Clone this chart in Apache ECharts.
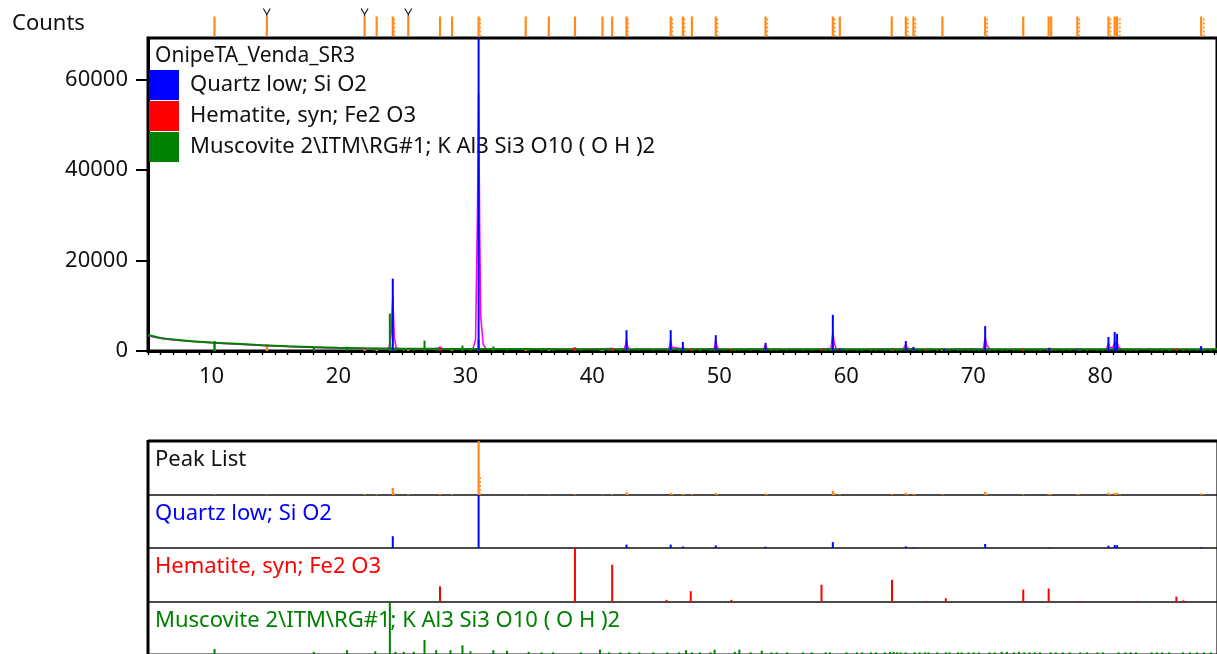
<!DOCTYPE html>
<html>
<head>
<meta charset="utf-8">
<title>OnipeTA_Venda_SR3</title>
<script src="https://cdn.jsdelivr.net/npm/echarts@6/dist/echarts.min.js"></script>
<style>
  html, body { margin: 0; padding: 0; background: #ffffff; }
  #chart { width: 1217px; height: 654px; }
</style>
</head>
<body>
<div id="chart"></div>
<script>
// ---------- data ----------
const sampleName = 'OnipeTA_Venda_SR3';
const yAxisTitle = 'Counts';
const xTickLabels = [10, 20, 30, 40, 50, 60, 70, 80];
const yTickLabels = [0, 20000, 40000, 60000];
const panelNames = ['Peak List', 'Quartz low; Si O2', 'Hematite, syn; Fe2 O3',
  'Muscovite 2\\ITM\\RG#1; K Al3 Si3 O10 ( O H )2'];

// measured / fitted profile: [2θ, counts]
const profile = [
  [5.0, 3450], [5.5, 3050], [6.0, 2800], [7.0, 2450], [8.0, 2200], [9.0, 2000],
  [10.0, 1820], [11.0, 1670], [12.0, 1520], [13.0, 1380], [14.0, 1240], [15.0, 1100],
  [16.0, 1000], [17.0, 900], [18.0, 810], [19.0, 720], [20.0, 650], [21.0, 600],
  [22.0, 560], [23.0, 520], [23.8, 500], [24.0, 700], [24.15, 4000], [24.28, 12000],
  [24.4, 3000], [24.55, 650], [24.8, 490], [26.0, 470], [27.0, 460], [27.8, 460],
  [28.0, 900], [28.2, 460], [29.0, 450], [30.0, 440], [30.6, 520], [30.8, 2500],
  [30.95, 30000], [31.04, 57000], [31.12, 28000], [31.2, 8000], [31.4, 1500],
  [31.6, 560], [32.0, 430], [34.0, 420], [36.0, 410], [38.0, 400], [38.63, 600],
  [39.0, 400], [41.56, 560], [42.0, 400], [42.5, 500], [42.62, 1400], [42.69, 2400],
  [42.78, 1000], [42.9, 430], [44.0, 400], [46.0, 430], [46.1, 1200], [46.17, 2300],
  [46.26, 800], [46.4, 400], [47.05, 480], [47.13, 1000], [47.22, 420], [48.0, 400],
  [49.6, 560], [49.72, 2400], [49.82, 900], [50.0, 400], [52.0, 400], [53.5, 480],
  [53.64, 1300], [53.75, 560], [54.0, 400], [56.0, 400], [58.0, 400], [58.8, 600],
  [58.94, 4000], [59.05, 1800], [59.2, 480], [60.0, 400], [62.0, 400], [64.5, 480],
  [64.69, 1500], [64.8, 650], [65.2, 420], [65.29, 750], [65.4, 400], [68.0, 390],
  [70.8, 500], [70.94, 3000], [71.05, 1300], [71.3, 420], [72.0, 390], [75.9, 400],
  [76.0, 650], [76.1, 400], [78.0, 390], [80.5, 430], [80.65, 1700], [80.75, 800],
  [81.0, 750], [81.14, 2000], [81.25, 1200], [81.33, 1800], [81.45, 800], [81.7, 420],
  [82.0, 390], [87.8, 400], [87.95, 750], [88.1, 400], [89.2, 390]
];

// fitted background: [2θ, counts]
const background = [
  [5.0, 3550], [6.0, 2900], [7.0, 2520], [8.0, 2270], [10.0, 1880], [12.0, 1580],
  [14.0, 1290], [16.0, 1050], [18.0, 860], [20.0, 700], [22.0, 600], [24.0, 540],
  [26.0, 500], [28.0, 470], [30.0, 450], [35.0, 420], [40.0, 410], [50.0, 400],
  [60.0, 390], [70.0, 380], [80.0, 380], [89.2, 380]
];

// peak list: [2θ, relative intensity %, counts in scan plot]
const peakList = [
  [10.24, 1, 2100], [14.36, 1, 1500], [22.06, 1.5, 800], [23.01, 1.5, 750],
  [24.28, 13, 1500], [25.50, 1.5, 700], [28.0, 2, 850], [28.95, 1.5, 650],
  [31.04, 100, 2500], [34.75, 1, 650], [36.57, 1, 650], [38.63, 1.5, 700],
  [40.80, 1, 620], [41.56, 1.5, 700], [42.69, 5, 1200], [46.17, 4, 1100],
  [47.13, 2, 800], [47.84, 1.5, 650], [49.72, 4, 1300], [53.64, 3, 900],
  [58.94, 8, 1500], [59.49, 1.5, 650], [63.58, 1.5, 650], [64.69, 4, 1000],
  [65.29, 2.5, 750], [67.57, 1.5, 620], [70.94, 6, 1400], [73.94, 1.5, 620],
  [75.94, 2, 700], [76.14, 2, 700], [78.2, 2, 650], [80.65, 4, 1100],
  [81.14, 4, 1200], [81.33, 4, 1100], [87.95, 3, 800]
];
// second (alpha-2) peak markers: [2θ, relative intensity %]
const peakListA2 = [
  [24.40, 6], [31.16, 38], [42.81, 2.5], [46.30, 2], [47.25, 1], [49.85, 2],
  [53.78, 1.5], [59.09, 4], [64.84, 2], [65.44, 1.2], [71.10, 3], [78.36, 1],
  [80.81, 2], [81.55, 2], [88.17, 1.5]
];
// peaks flagged as unassigned
const peakFlagged = [14.36, 22.06, 25.50];

// Quartz low reference: [2θ, counts]
const quartz = [
  [24.28, 16000], [31.04, 72000], [42.69, 4600], [46.17, 4600], [47.13, 2000],
  [49.72, 3500], [53.64, 1800], [58.94, 8000], [59.49, 500], [64.69, 2200],
  [65.29, 900], [67.7, 450], [70.94, 5500], [76.0, 700], [78.2, 350],
  [80.65, 3100], [81.14, 4200], [81.33, 3800], [87.95, 1100]
];

// Hematite reference: [2θ, relative intensity %, counts in scan plot]
const hematite = [
  [28.0, 29, 600], [38.63, 100, 750], [41.56, 69, 620], [45.85, 4, 420],
  [47.75, 20, 480], [50.95, 4, 410], [58.05, 32, 520], [63.6, 41, 560],
  [66.25, 2, 400], [67.84, 7, 420], [73.94, 23, 480], [75.94, 25, 490],
  [78.4, 2, 400], [82.9, 2, 400], [86.0, 10, 440], [86.55, 3, 400]
];

// Muscovite reference: [2θ, relative intensity %, counts in scan plot]
const muscovite = [
  [10.24, 13, 2200], [18.06, 8, 850], [20.68, 11, 950], [22.9, 9, 620],
  [24.05, 100, 8300], [24.49, 8, 560], [25.14, 8, 540], [25.93, 8, 520],
  [26.78, 30, 2300], [27.7, 11, 750], [28.82, 11, 540], [29.77, 20, 1200],
  [30.4, 9, 500], [32.2, 11, 1000], [33.28, 10, 500], [34.98, 8, 480],
  [36.0, 7, 470], [36.9, 7, 470], [39.1, 7, 460], [40.6, 12, 560], [41.3, 7, 460],
  [42.2, 7, 460], [42.9, 7, 460], [43.7, 7, 460], [44.8, 7, 460], [45.9, 7, 460],
  [46.83, 7, 450], [47.38, 11, 520], [47.84, 7, 450], [48.47, 7, 450], [49.3, 7, 450],
  [49.63, 12, 530], [51.22, 8, 450], [51.58, 12, 520], [52.46, 7, 450], [53.34, 10, 500],
  [54.11, 7, 450], [54.52, 7, 450], [55.34, 7, 450], [56.58, 7, 450], [57.27, 7, 450],
  [58.37, 7, 450], [58.72, 7, 450], [60.01, 7, 440], [60.84, 7, 440], [61.25, 7, 440],
  [61.94, 7, 440], [62.35, 7, 440], [63.04, 7, 440], [63.45, 8, 440], [63.72, 8, 440],
  [64.0, 7, 440], [64.27, 7, 440], [64.68, 7, 440], [65.37, 7, 440], [65.78, 7, 440],
  [66.19, 7, 440], [66.47, 7, 440], [67.16, 7, 440], [67.84, 7, 440], [68.12, 7, 440],
  [68.8, 7, 440], [69.08, 7, 440], [69.63, 7, 440], [70.04, 7, 430], [70.45, 7, 430],
  [71.28, 7, 430], [71.69, 7, 430], [72.24, 8, 430], [72.65, 8, 430], [73.2, 7, 430],
  [73.61, 8, 430], [74.02, 7, 430], [74.44, 7, 430], [74.85, 7, 430], [75.26, 7, 430],
  [76.08, 7, 430], [76.5, 7, 430], [77.05, 7, 430], [77.6, 7, 430], [78.42, 7, 430],
  [78.97, 7, 430], [79.79, 7, 430], [80.21, 7, 430], [81.44, 7, 430], [81.99, 7, 430],
  [82.4, 7, 430], [82.82, 7, 430], [84.05, 7, 430], [84.46, 7, 430], [84.88, 7, 430],
  [85.43, 7, 430], [86.52, 7, 430], [87.07, 7, 430], [87.62, 7, 430], [88.17, 7, 430],
  [88.72, 7, 430]
];

// ---------- styling ----------
const FONT = '"Noto Sans", "Open Sans", "DejaVu Sans", sans-serif';
const FS = 22;
const C_BLUE = '#0000ff', C_RED = '#ff0000', C_GREEN = '#008000';
const C_ORANGE = '#ff8a16', C_MAGENTA = '#ff00ff';
// the scan continues past the right edge of the window
const X_MIN = 5, X_MAX = 89.2, Y_MAX = 69200;
const PLOT_LEFT = 148, PLOT_WIDTH = 1069;

// vertical stick from the axis baseline up to the value
function stick(color, width, dash) {
  return function (params, api) {
    const a = api.coord([api.value(0), 0]);
    const b = api.coord([api.value(0), api.value(1)]);
    return {
      type: 'line',
      shape: { x1: a[0], y1: a[1], x2: b[0], y2: b[1] },
      style: { stroke: color, lineWidth: width, lineDash: dash || null }
    };
  };
}

// peak markers sitting on top of the scan frame
function topMarker(dash) {
  return function (params, api) {
    const p = api.coord([api.value(0), Y_MAX]);
    const y0 = p[1] - 1.5;
    return {
      type: 'line',
      shape: { x1: p[0], y1: y0, x2: p[0], y2: y0 - 20 },
      style: { stroke: C_ORANGE, lineWidth: dash ? 1.6 : 2.2, lineDash: dash ? [2, 2] : null }
    };
  };
}
function flagMarker(params, api) {
  const p = api.coord([api.value(0), Y_MAX]);
  const y0 = p[1] - 21.5;
  return {
    type: 'polyline',
    shape: { points: [[p[0] - 3.5, y0 - 8], [p[0], y0 - 2], [p[0] + 3.5, y0 - 8], [p[0], y0 - 2], [p[0], y0]] },
    style: { stroke: '#111', lineWidth: 1.1, fill: null }
  };
}

const panelTops = [441, 495, 548, 602];
const panelHeights = [54, 53, 54, 52];

const grids = [{
  left: PLOT_LEFT, top: 38, width: PLOT_WIDTH, height: 313,
  show: true, borderColor: '#000', borderWidth: 3, backgroundColor: 'transparent'
}];
panelTops.forEach((t, i) => grids.push({
  left: PLOT_LEFT, top: t, width: PLOT_WIDTH, height: panelHeights[i],
  show: true, borderColor: '#111', borderWidth: 1.2
}));

const xAxes = [{
  type: 'value', gridIndex: 0, min: X_MIN, max: X_MAX, interval: 1,
  axisLine: { show: true, onZero: false, lineStyle: { color: '#000', width: 3 } },
  axisTick: { show: true, length: 4, lineStyle: { color: '#000', width: 1.4 } },
  axisLabel: {
    customValues: xTickLabels, margin: 15, color: '#111',
    fontFamily: FONT, fontSize: FS, formatter: v => String(v)
  },
  splitLine: { show: false }
}];
const yAxes = [{
  type: 'value', gridIndex: 0, min: 0, max: Y_MAX, interval: 20000,
  axisLine: { show: true, lineStyle: { color: '#000', width: 3 } },
  axisTick: { show: true, customValues: yTickLabels, length: 12, lineStyle: { color: '#000', width: 2 } },
  axisLabel: {
    customValues: yTickLabels, margin: 20, color: '#111', fontFamily: FONT, fontSize: FS,
    formatter: v => String(v)
  },
  splitLine: { show: false }
}];
const panelMax = [
  Math.max(...peakList.map(r => r[1])),
  Math.max(...quartz.map(r => r[1])),
  Math.max(...hematite.map(r => r[1])),
  Math.max(...muscovite.map(r => r[1]))
];
// the muscovite panel runs past the bottom of the window: its baseline sits just below
const panelMin = [0, 0, 0, 4];
panelTops.forEach((t, i) => {
  xAxes.push({ type: 'value', gridIndex: i + 1, min: X_MIN, max: X_MAX, show: false });
  yAxes.push({ type: 'value', gridIndex: i + 1, min: panelMin[i], max: panelMax[i], show: false });
});

const series = [
  // scan plot
  { type: 'line', name: 'profile', xAxisIndex: 0, yAxisIndex: 0, data: profile,
    symbol: 'none', lineStyle: { color: C_MAGENTA, width: 1.6 }, z: 3, silent: true },
  { type: 'line', name: 'background', xAxisIndex: 0, yAxisIndex: 0, data: background,
    symbol: 'none', smooth: 0.3, lineStyle: { color: C_GREEN, width: 2 }, z: 4, silent: true },
  { type: 'custom', name: 'peaks', xAxisIndex: 0, yAxisIndex: 0, z: 2,
    data: peakList.map(r => [r[0], r[2]]), renderItem: stick(C_ORANGE, 2.5) },
  { type: 'custom', name: panelNames[2], xAxisIndex: 0, yAxisIndex: 0, z: 5,
    itemStyle: { color: C_RED }, data: hematite.map(r => [r[0], r[2]]), renderItem: stick(C_RED, 2) },
  { type: 'custom', name: panelNames[3], xAxisIndex: 0, yAxisIndex: 0, z: 5,
    itemStyle: { color: C_GREEN }, data: muscovite.map(r => [r[0], r[2]]), renderItem: stick(C_GREEN, 2) },
  { type: 'custom', name: panelNames[1], xAxisIndex: 0, yAxisIndex: 0, z: 6, clip: true,
    itemStyle: { color: C_BLUE }, data: quartz, renderItem: stick(C_BLUE, 2) },
  // peak markers above the frame
  { type: 'custom', xAxisIndex: 0, yAxisIndex: 0, z: 7,
    data: peakList.map(r => [r[0]]), renderItem: topMarker(false) },
  { type: 'custom', xAxisIndex: 0, yAxisIndex: 0, z: 7,
    data: peakListA2.map(r => [r[0]]), renderItem: topMarker(true) },
  { type: 'custom', xAxisIndex: 0, yAxisIndex: 0, z: 7,
    data: peakFlagged.map(v => [v]), renderItem: flagMarker },
  // stick panels
  { type: 'custom', xAxisIndex: 1, yAxisIndex: 1, data: peakList.map(r => [r[0], r[1]]),
    renderItem: stick(C_ORANGE, 2.2) },
  { type: 'custom', xAxisIndex: 1, yAxisIndex: 1, data: peakListA2,
    renderItem: stick(C_ORANGE, 1.5, [2, 2]) },
  { type: 'custom', name: panelNames[1], xAxisIndex: 2, yAxisIndex: 2, itemStyle: { color: C_BLUE },
    data: quartz, renderItem: stick(C_BLUE, 2) },
  { type: 'custom', name: panelNames[2], xAxisIndex: 3, yAxisIndex: 3, itemStyle: { color: C_RED },
    data: hematite.map(r => [r[0], r[1]]), renderItem: stick(C_RED, 2) },
  { type: 'custom', name: panelNames[3], xAxisIndex: 4, yAxisIndex: 4, itemStyle: { color: C_GREEN },
    data: muscovite.map(r => [r[0], r[1]]), renderItem: stick(C_GREEN, 2) }
];

const panelColors = ['#111', C_BLUE, C_RED, C_GREEN];
const graphic = [
  { type: 'text', left: 12, top: 13, style: { text: yAxisTitle, font: FS + 'px ' + FONT, fill: '#111' } },
  { type: 'text', left: 155, top: 46, style: { text: sampleName, font: '21px ' + FONT, fill: '#111' } },
  // outer frame of the stick panels
  { type: 'line', shape: { x1: PLOT_LEFT, y1: 441, x2: 1217, y2: 441 }, style: { stroke: '#000', lineWidth: 3 } },
  { type: 'line', shape: { x1: PLOT_LEFT, y1: 440, x2: PLOT_LEFT, y2: 660 }, style: { stroke: '#000', lineWidth: 3 } }
];
panelNames.forEach((n, i) => graphic.push({
  type: 'text', left: 155, top: panelTops[i] + 8, z: 10,
  style: { text: n, font: FS + 'px ' + FONT, fill: panelColors[i] }
}));

const chart = echarts.init(document.getElementById('chart'));
chart.setOption({
  animation: false,
  backgroundColor: '#ffffff',
  grid: grids,
  xAxis: xAxes,
  yAxis: yAxes,
  legend: {
    left: 149, top: 70, orient: 'vertical', icon: 'rect',
    itemWidth: 30, itemHeight: 30, itemGap: 1, padding: 0, selectedMode: false,
    textStyle: { fontFamily: FONT, fontSize: FS, color: '#111', padding: [4, 0, 0, 6] },
    data: [
      { name: panelNames[1], itemStyle: { color: C_BLUE } },
      { name: panelNames[2], itemStyle: { color: C_RED } },
      { name: panelNames[3], itemStyle: { color: C_GREEN } }
    ]
  },
  series: series,
  graphic: graphic
});
</script>
</body>
</html>
